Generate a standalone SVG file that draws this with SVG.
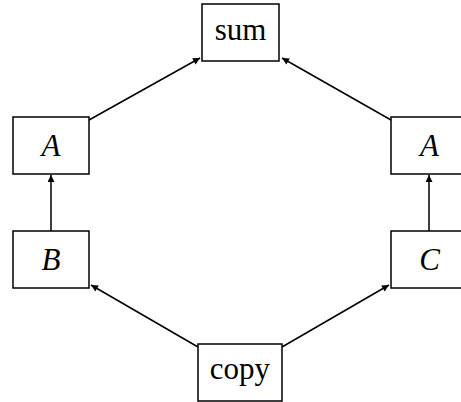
<svg xmlns="http://www.w3.org/2000/svg" width="461" height="402" viewBox="0 0 461 402">
<style>
.box{fill:#fff;stroke:#000;stroke-width:1.5}
.t{font-family:"Liberation Serif","DejaVu Serif",serif;font-size:31px;text-anchor:middle;fill:#000}
.i{font-style:italic}
.e{stroke:#000;stroke-width:1.5;fill:none;marker-end:url(#ah)}
</style>
<defs>
<marker id="ah" viewBox="0 0 10 10" refX="10" refY="5" markerWidth="8" markerHeight="7" markerUnits="userSpaceOnUse" orient="auto">
<path d="M0,0 L10,5 L0,10 z" fill="#000"/>
</marker>
</defs>
<g id="edges">
<line class="e" x1="89" y1="120" x2="200" y2="58"/>
<line class="e" x1="391" y1="120" x2="282" y2="58"/>
<line class="e" x1="51" y1="231" x2="51" y2="175"/>
<line class="e" x1="429" y1="231" x2="429" y2="175"/>
<line class="e" x1="198" y1="347" x2="91" y2="285"/>
<line class="e" x1="282" y1="347" x2="389" y2="285"/>
</g>
<g id="sum"><rect class="box" x="202" y="4" width="77" height="57"/><text class="t" x="240.5" y="40">sum</text></g>
<g id="A1"><rect class="box" x="13" y="117" width="76" height="57"/><text class="t i" x="51" y="156">A</text></g>
<g id="B"><rect class="box" x="13" y="231" width="76" height="57"/><text class="t i" x="51" y="270">B</text></g>
<g id="A2"><rect class="box" x="391" y="117" width="77" height="57"/><text class="t i" x="429.5" y="156">A</text></g>
<g id="C"><rect class="box" x="391" y="231" width="77" height="57"/><text class="t i" x="429.5" y="270">C</text></g>
<g id="copy"><rect class="box" x="198" y="344" width="84" height="57"/><text class="t" x="240" y="379">copy</text></g>
</svg>
